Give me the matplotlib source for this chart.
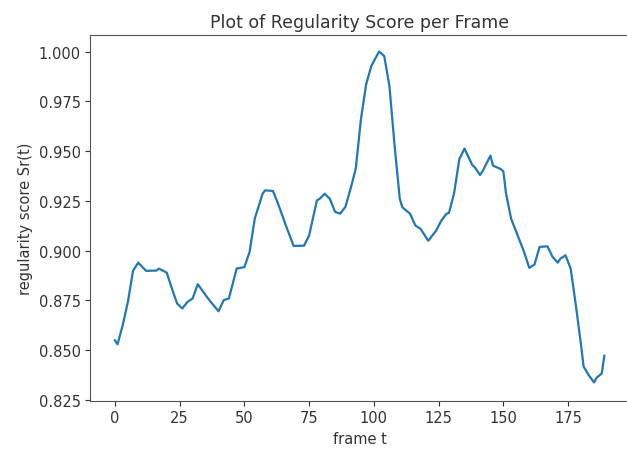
import matplotlib
matplotlib.use("Agg")
import matplotlib.pyplot as plt

# Regularity score
frames = [0, 1, 3, 5, 7, 9, 12, 16, 17, 20, 22, 24, 26, 28, 30, 32, 35, 37,
          40, 42, 44, 47, 50, 52, 54, 57, 58, 61, 63, 66, 69, 73, 75, 78, 79,
          81, 83, 85, 87, 89, 91, 93, 95, 97, 99, 102, 104, 106, 108, 110, 111,
          114, 116, 118, 121, 124, 126, 128, 129, 131, 133, 135, 136, 138, 139,
          141, 142, 145, 146, 149, 150, 151, 153, 155, 158, 160, 162, 164, 167,
          169, 171, 172, 174, 176, 178, 180, 181, 183, 185, 186, 188, 189]
scores = [0.855, 0.853, 0.8626, 0.8743, 0.890, 0.894, 0.8899, 0.890, 0.891,
          0.889, 0.881, 0.8735, 0.871, 0.8743, 0.876, 0.8832, 0.8777, 0.8743,
          0.8696, 0.8752, 0.876, 0.891, 0.8918, 0.8994, 0.9161, 0.9286, 0.9303,
          0.930, 0.9236, 0.9127, 0.9024, 0.9025, 0.9077, 0.9253, 0.926, 0.9286,
          0.926, 0.9195, 0.9186, 0.922, 0.9311, 0.9412, 0.966, 0.9835, 0.9927,
          1.000, 0.9977, 0.9827, 0.9527, 0.926, 0.9218, 0.9185, 0.9127, 0.911,
          0.905, 0.910, 0.915, 0.9185, 0.919, 0.929, 0.946, 0.9513, 0.9485,
          0.943, 0.9418, 0.938, 0.940, 0.9477, 0.9427, 0.941, 0.9398, 0.929,
          0.916, 0.9094, 0.8994, 0.8914, 0.893, 0.9019, 0.9022, 0.8969, 0.894,
          0.896, 0.8977, 0.891, 0.8726, 0.8526, 0.8418, 0.8375, 0.8339, 0.8362,
          0.8384, 0.8473]

fig = plt.figure(figsize=(6.27, 4.56), dpi=100)
ax = fig.add_axes([0.1443, 0.1191, 0.8586, 0.802])

ax.plot(frames, scores, color="#1f77b4", linewidth=1.6)

ax.set_xlim(-9.45, 198.45)
ax.set_ylim(0.8247, 1.0083)
ax.set_xticks([0, 25, 50, 75, 100, 125, 150, 175])
ax.set_yticks([0.825, 0.850, 0.875, 0.900, 0.925, 0.950, 0.975, 1.000])
ax.tick_params(labelsize=10.5, colors="#333333", labelcolor="#333333")
for s in ax.spines.values():
    s.set_color("#555555")

ax.set_title("Plot of Regularity Score per Frame", fontsize=12.5, color="#333333")
ax.set_xlabel("frame t", fontsize=10.5, color="#333333")
ax.set_ylabel("regularity score Sr(t)", fontsize=10.5, color="#333333")

fig.savefig("out.png", dpi=100)
